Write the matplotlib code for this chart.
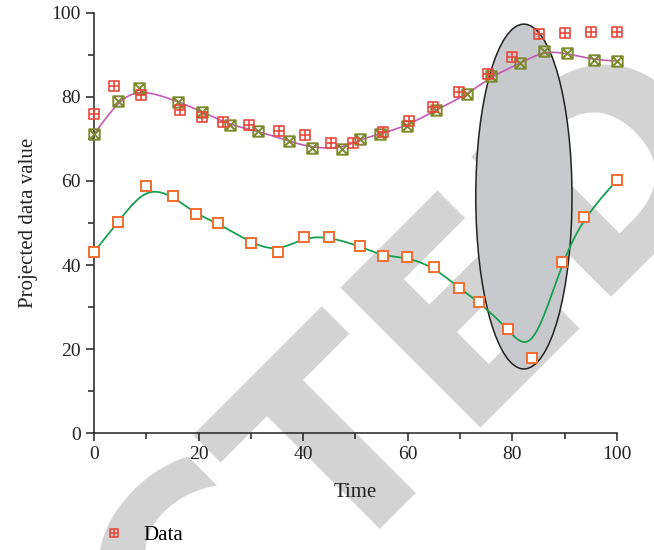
import numpy as np
from matplotlib import pyplot as plt
from matplotlib.path import Path
from matplotlib.patches import Ellipse

# measured series (x = time)
data_x = [0, 3.8, 8.9, 16.4, 20.6, 24.7, 29.7, 35.4, 40.3, 45.4, 49.5,
          55.3, 60.3, 64.8, 69.8, 75.4, 79.9, 85.0, 90.0, 95.0, 100]
data_y = [76.0, 82.7, 80.4, 77.0, 75.2, 74.1, 73.3, 71.9, 71.0, 69.1, 69.0,
          71.6, 74.2, 77.5, 81.3, 85.5, 89.6, 95.1, 95.3, 95.5, 95.5]

# projected series that follows the data
proj_x = [0, 4.6, 8.7, 16.1, 20.7, 26.0, 31.3, 37.2, 41.7, 47.4, 50.9,
          54.7, 59.8, 65.4, 71.4, 75.9, 81.5, 86.0, 90.4, 95.7, 100]
proj_y = [71.1, 79.0, 82.1, 78.9, 76.5, 73.3, 71.9, 69.5, 67.9, 67.7, 69.9,
          71.2, 73.1, 76.9, 80.6, 84.9, 88.0, 91.0, 90.4, 88.8, 88.6]

# second projected series
low_x = [0, 4.6, 10.0, 15.1, 19.5, 23.7, 30.0, 35.2, 40.2, 45.0, 50.8,
         55.2, 59.8, 65.0, 69.8, 73.6, 79.2, 83.7, 89.4, 93.7, 100]
low_y = [43.1, 50.2, 58.8, 56.4, 52.1, 50.0, 45.2, 43.1, 46.7, 46.7, 44.5,
         42.1, 41.9, 39.5, 34.5, 31.2, 24.8, 17.9, 40.7, 51.4, 60.2]

RED = '#e8483b'
OLIVE = '#7d8a2e'
ORANGE = '#f36c2e'
PURPLE = '#c45ab3'
GREEN = '#16a052'


def bspline(xs, ys, n=40):
    # clamped uniform cubic B-spline using the points as control points
    p = np.column_stack([xs, ys]).astype(float)
    p = np.vstack([p[:1], p[:1], p, p[-1:], p[-1:]])
    t = np.linspace(0, 1, n, endpoint=False)
    b = np.column_stack([(1 - t) ** 3,
                         3 * t ** 3 - 6 * t ** 2 + 4,
                         -3 * t ** 3 + 3 * t ** 2 + 3 * t + 1,
                         t ** 3]) / 6
    out = [b @ p[i:i + 4] for i in range(len(p) - 3)]
    out.append(p[-1:])
    out = np.vstack(out)
    return out[:, 0], out[:, 1]


M, L, C = Path.MOVETO, Path.LINETO, Path.CLOSEPOLY
sq_plus = Path([(-1, -1), (1, -1), (1, 1), (-1, 1), (-1, -1),
                (0, -1), (0, 1), (-1, 0), (1, 0)],
               [M, L, L, L, C, M, L, M, L])
sq_cross = Path([(-1, -1), (1, -1), (1, 1), (-1, 1), (-1, -1),
                 (-1, -1), (1, 1), (-1, 1), (1, -1)],
                [M, L, L, L, C, M, L, M, L])

plt.rcParams['font.family'] = ['Liberation Serif', 'DejaVu Serif']

fig = plt.figure(figsize=(6.54, 5.5), dpi=100)
ax = fig.add_axes([0.1437, 0.2127, 0.7997, 0.7637])
ax.set_facecolor('none')

# grey watermark lettering behind the plot
fig.text(0.173, -0.400, 'RETRACTED', rotation=45, rotation_mode='anchor',
         ha='center', va='baseline', fontsize=195, fontweight='bold',
         family='DejaVu Sans', color='#d3d3d3', zorder=-5)

ax.add_patch(Ellipse((82.2, 56.3), 18.4, 82.1, facecolor='#c8c9cd',
                     edgecolor='#222222', lw=1.1, zorder=1))

sx, sy = bspline(proj_x, proj_y)
ax.plot(sx, sy, color=PURPLE, lw=1.2, zorder=2)
sx, sy = bspline(low_x, low_y)
ax.plot(sx, sy, color=GREEN, lw=1.3, zorder=2)

ax.plot(low_x, low_y, ls='none', marker='s', ms=7.5, mfc='white',
        mec=ORANGE, mew=1.4, zorder=3, clip_on=False)
ax.plot(proj_x, proj_y, ls='none', marker=sq_cross, ms=7.5, mfc='none',
        mec=OLIVE, mew=1.4, zorder=4, clip_on=False)
data_line, = ax.plot(data_x, data_y, ls='none', marker=sq_plus, ms=7.5,
                     mfc='none', mec=RED, mew=1.2, zorder=5, clip_on=False)

ax.set_xlim(0, 100)
ax.set_ylim(0, 100)
ax.set_xticks(np.arange(0, 101, 20))
ax.set_xticks(np.arange(10, 100, 20), minor=True)
ax.set_yticks(np.arange(0, 101, 20))
ax.set_yticks(np.arange(10, 100, 20), minor=True)
ax.spines['top'].set_visible(False)
ax.spines['right'].set_visible(False)
for s in ('left', 'bottom'):
    ax.spines[s].set_color('#222222')
    ax.spines[s].set_linewidth(1.1)
ax.tick_params(which='major', length=6, width=1.1, color='#222222',
               labelsize=14, labelcolor='#222222')
ax.tick_params(which='minor', length=4, width=1.1, color='#222222')
ax.set_xlabel('Time', fontsize=15, color='#222222', labelpad=14)
ax.set_ylabel('Projected data value', fontsize=15, color='#222222',
              labelpad=10)

fig.legend([data_line], ['Data'], loc='center left',
           bbox_to_anchor=(0.13, 0.027), frameon=False, fontsize=15,
           handlelength=1.0, handletextpad=0.9, markerscale=0.85)

fig.savefig('out.png', dpi=100)
